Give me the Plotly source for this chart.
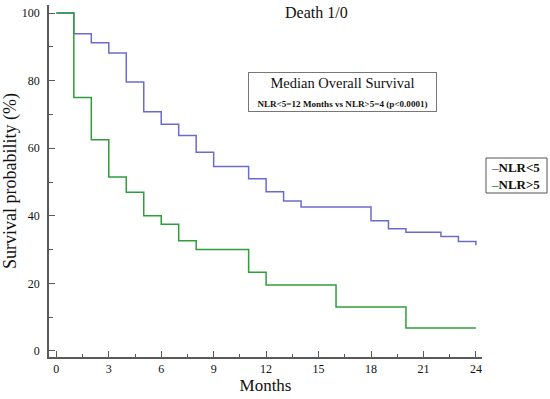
import plotly.graph_objects as go

# Kaplan-Meier step data
months_low = [0, 1, 2, 3, 4, 5, 6, 7, 8, 9, 11, 12, 13, 14, 18, 19, 20, 22, 23, 24]
surv_low = [100, 93.9, 91.2, 88.2, 79.6, 70.8, 67.1, 63.8, 58.8, 54.6, 51.0, 47.1,
            44.4, 42.6, 38.5, 36.2, 35.1, 33.9, 32.4, 31.3]

months_high = [0, 1, 2, 3, 4, 5, 6, 7, 8, 11, 12, 16, 20, 24]
surv_high = [100, 75.0, 62.5, 51.5, 47.0, 40.0, 37.5, 32.6, 30.0, 23.3, 19.5, 13.0, 6.8, 6.8]

series_names = ["NLR<5", "NLR>5"]
series_colors = ["#6b6bcf", "#2f9e3a"]

x_ticks = [0, 3, 6, 9, 12, 15, 18, 21, 24]
y_ticks = [0, 20, 40, 60, 80, 100]

FONT = "Liberation Serif, Times New Roman, serif"
AXC = "#5a5a5a"

L, R, T, B = 49, 68, 5, 42
W, H = 550, 399
PW, PH = W - L - R, H - T - B


def px(xp):
    return (xp - L) / PW


def py(yp):
    return (H - B - yp) / PH


def esc(s):
    return s.replace("<", "&lt;").replace(">", "&gt;")


fig = go.Figure()
fig.add_trace(go.Scatter(x=months_low, y=surv_low, mode="lines", line_shape="hv",
                         name=series_names[0],
                         line=dict(color=series_colors[0], width=1.5)))
fig.add_trace(go.Scatter(x=months_high, y=surv_high, mode="lines", line_shape="hv",
                         name=series_names[1],
                         line=dict(color=series_colors[1], width=1.5)))

legend_text = "<br>".join(
    f"<span style='color:{c}'>–</span>{esc(n)}" for n, c in zip(series_names, series_colors))

fig.update_layout(
    width=W, height=H,
    margin=dict(l=L, r=R, t=T, b=B),
    paper_bgcolor="white", plot_bgcolor="white",
    font=dict(family=FONT, color="#111", size=12),
    showlegend=False,
    xaxis=dict(range=[-0.42, 24.35], tickvals=x_ticks, ticks="inside", ticklen=6,
               tickcolor=AXC, showline=True, linecolor=AXC, linewidth=1.5,
               showgrid=False, zeroline=False, automargin=False,
               minor=dict(dtick=1.5, tick0=0, ticks="inside", ticklen=3, tickcolor=AXC),
               tickfont=dict(size=12, family=FONT),
               title=dict(text="Months", font=dict(size=17, family=FONT), standoff=3)),
    yaxis=dict(range=[-1.8, 102.4], tickvals=y_ticks, ticks="inside", ticklen=6,
               tickcolor=AXC, showline=True, linecolor=AXC, linewidth=1.5,
               showgrid=False, zeroline=False, automargin=False,
               minor=dict(dtick=10, tick0=0, ticks="inside", ticklen=4, tickcolor=AXC),
               tickfont=dict(size=12, family=FONT), ticklabelstandoff=5,
               title=dict(text="Survival probability (%)", font=dict(size=18, family=FONT),
                          standoff=3)),
    shapes=[dict(type="rect", xref="paper", yref="paper",
                 x0=px(486), x1=px(547), y0=py(193), y1=py(158),
                 line=dict(color="#555", width=1), fillcolor="white", layer="below")],
    annotations=[
        dict(text="Death 1/0", xref="paper", yref="paper", x=px(316), y=py(13),
             xanchor="center", yanchor="middle", showarrow=False,
             font=dict(size=16, family=FONT, color="#111")),
        dict(text="Median Overall Survival<br><b><span style='font-size:9.1px'>"
                  "NLR&lt;5=12 Months vs NLR&gt;5=4 (p&lt;0.0001)</span></b>",
             xref="paper", yref="paper", x=px(342.5), y=py(92),
             xanchor="center", yanchor="middle", showarrow=False,
             width=183, borderpad=2,
             bordercolor="#777", borderwidth=1, bgcolor="white",
             font=dict(size=14.5, family=FONT, color="#111")),
        dict(text=legend_text, xref="paper", yref="paper", x=px(489), y=py(176),
             xanchor="left", yanchor="middle", align="left", showarrow=False,
             font=dict(size=13, family=FONT, color="#111", weight="bold")),
    ],
)

fig.write_html("out.html", config={"displayModeBar": False},
               post_script="document.body.style.margin='0';document.body.style.padding='0';")
